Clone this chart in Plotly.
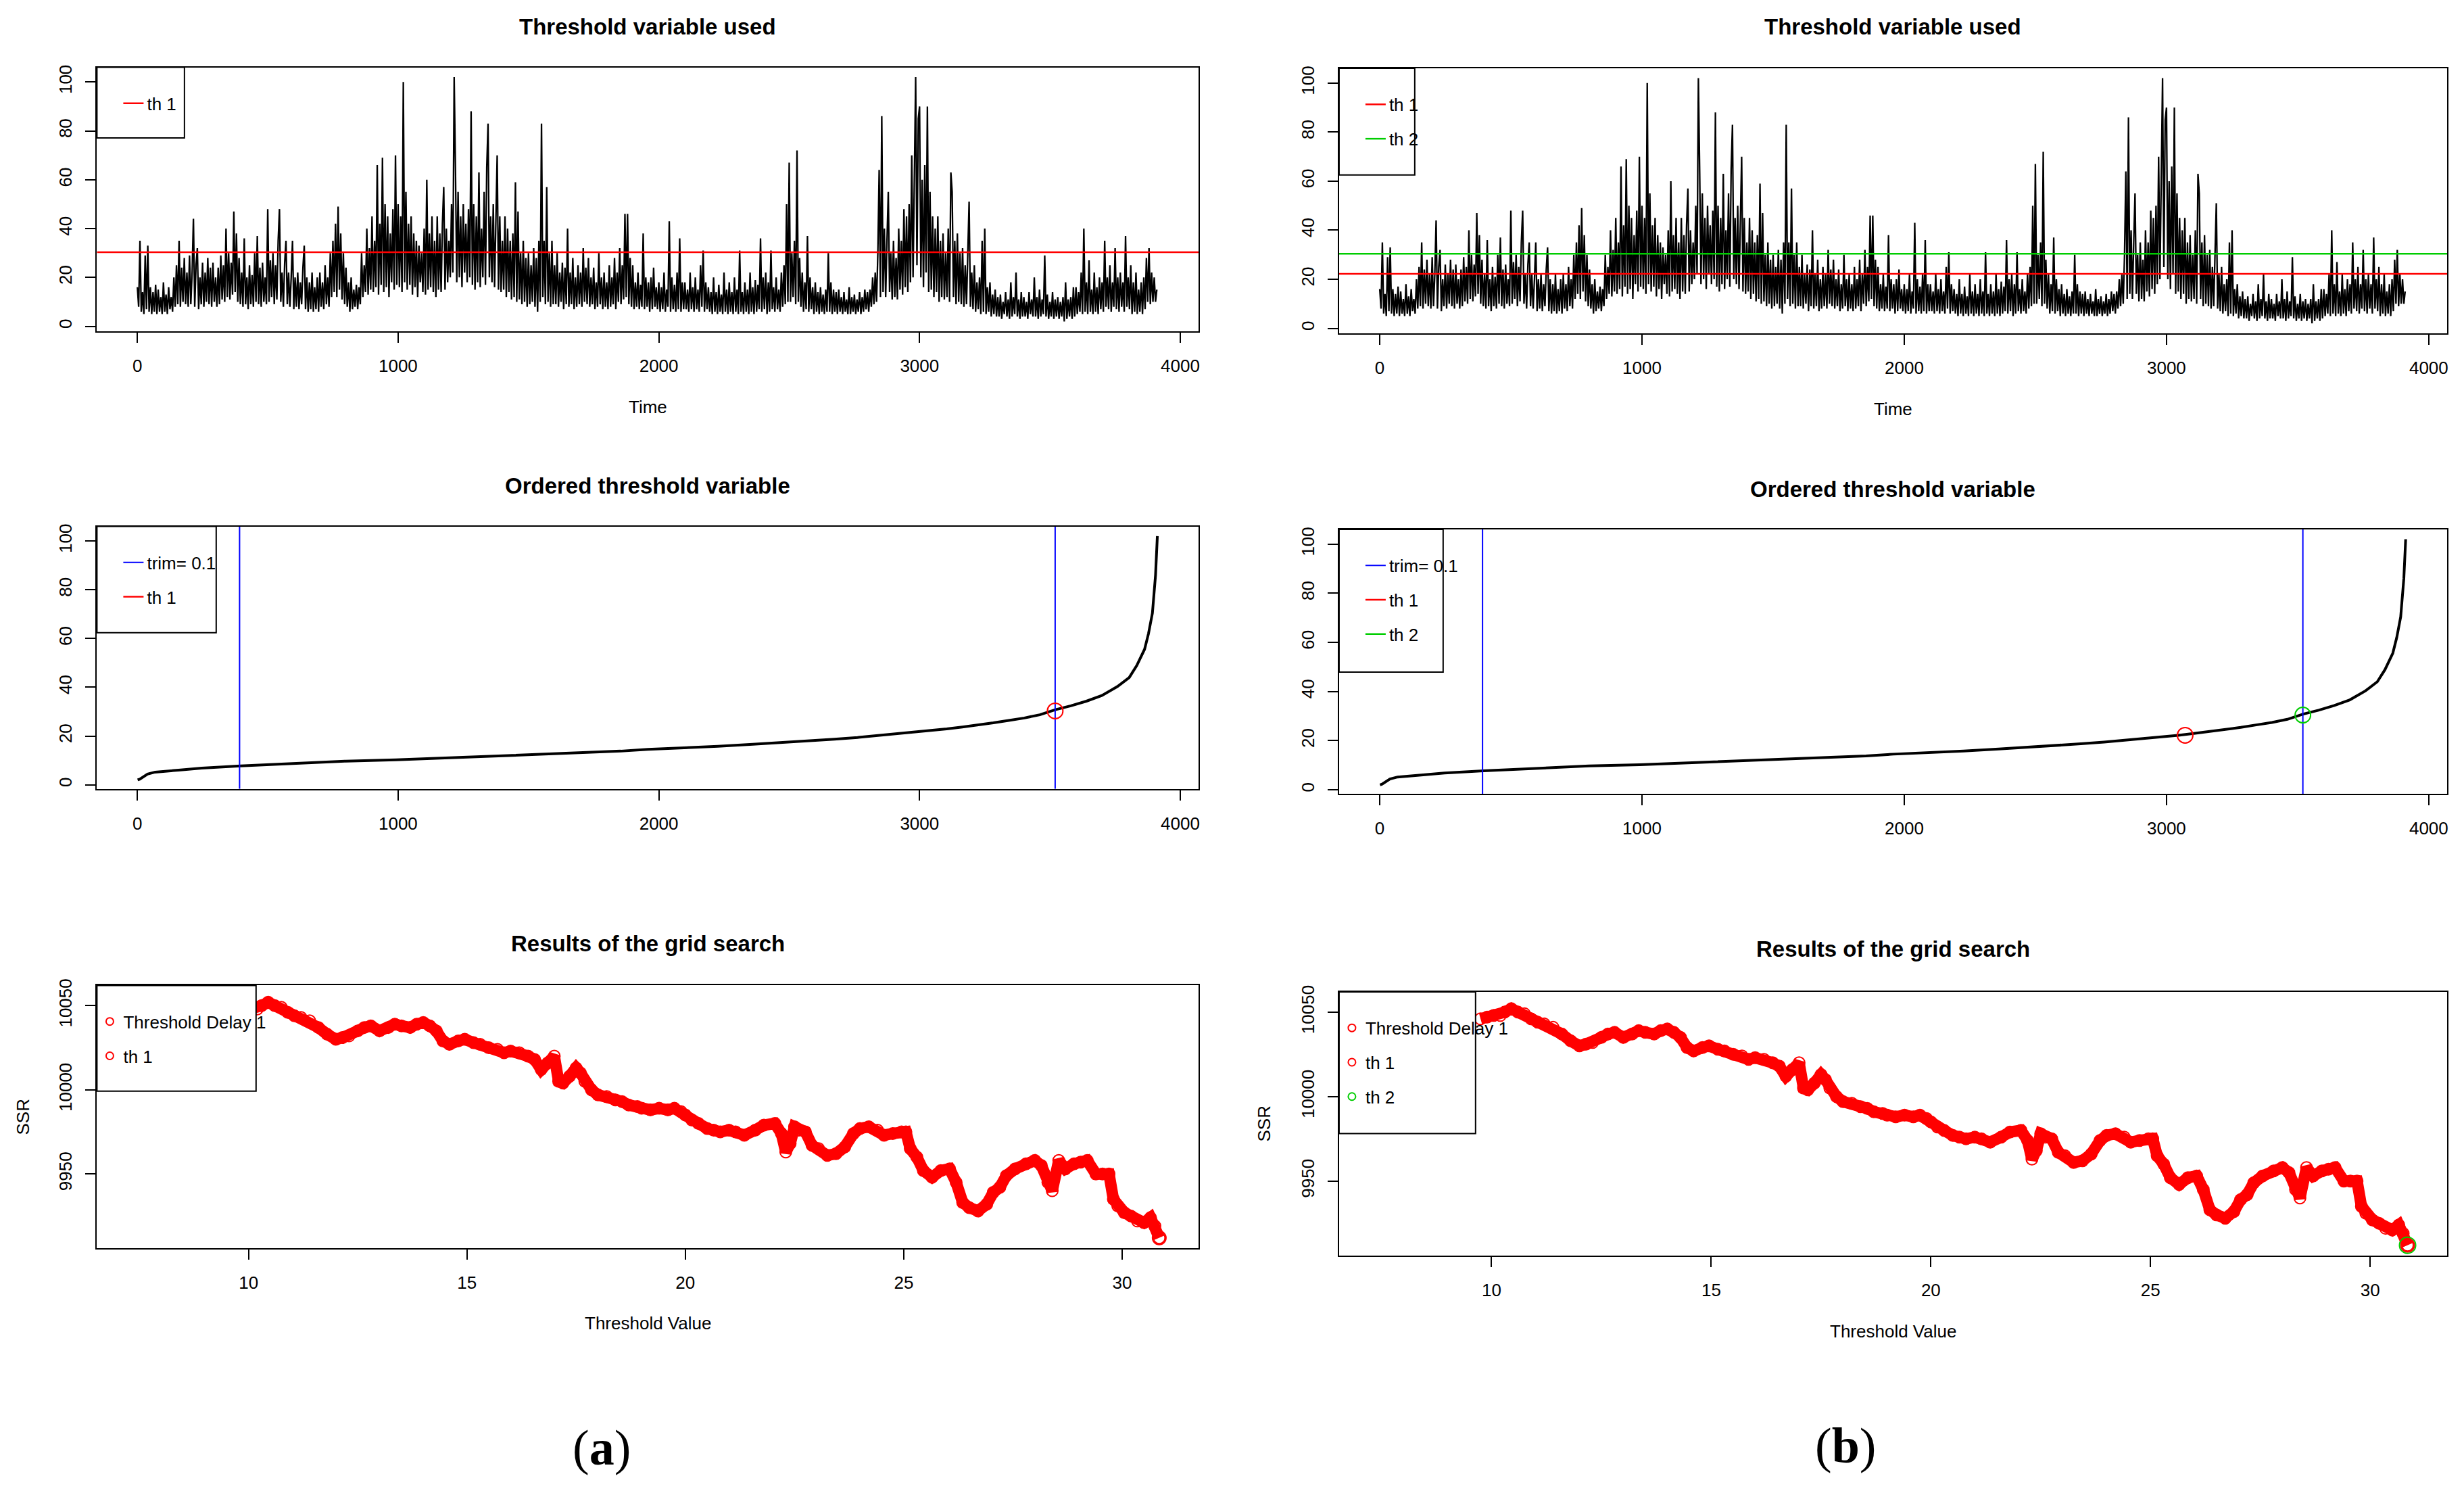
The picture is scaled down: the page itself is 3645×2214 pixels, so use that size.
import numpy as np
import plotly.graph_objects as go

W, H = 3645, 2214

# threshold variable, one value every 5 time steps
thr_series = [
    16, 8, 35, 6, 14, 5, 29, 7, 33, 6, 16, 5, 14, 6, 17, 5, 15, 6, 12, 5,
    18, 6, 13, 5, 16, 7, 12, 6, 20, 8, 25, 9, 35, 8, 24, 10, 28, 9, 22, 8,
    29, 9, 22, 44, 8, 25, 32, 7, 20, 9, 26, 8, 22, 10, 28, 9, 24, 8, 26, 10,
    20, 8, 24, 9, 29, 11, 25, 10, 40, 12, 30, 11, 26, 13, 47, 14, 38, 10, 28, 9,
    22, 8, 36, 9, 20, 7, 25, 9, 21, 8, 30, 10, 37, 9, 24, 8, 26, 10, 20, 9,
    48, 10, 27, 12, 30, 9, 25, 11, 35, 48, 10, 22, 8, 26, 35, 9, 22, 8, 20, 35,
    7, 20, 8, 22, 7, 18, 9, 24, 33, 7, 20, 6, 18, 7, 22, 6, 16, 7, 20, 6,
    22, 8, 18, 7, 25, 9, 20, 8, 30, 12, 35, 14, 42, 12, 49, 15, 38, 11, 30, 9,
    24, 8, 18, 6, 20, 7, 15, 8, 17, 7, 16, 9, 30, 12, 25, 14, 40, 13, 32, 15,
    45, 14, 35, 16, 66, 13, 42, 17, 69, 14, 50, 16, 45, 12, 38, 18, 48, 15, 70, 17,
    50, 16, 45, 14, 100, 18, 55, 15, 42, 17, 45, 13, 38, 16, 35, 12, 33, 18, 30, 14,
    40, 13, 60, 15, 38, 16, 45, 14, 35, 12, 45, 15, 38, 14, 42, 57, 15, 40, 18, 35,
    20, 50, 22, 102, 64, 18, 55, 20, 45, 16, 50, 22, 42, 18, 48, 20, 88, 17, 50, 15,
    45, 18, 63, 16, 40, 20, 55, 17, 65, 83, 20, 45, 18, 50, 16, 40, 70, 15, 45, 14,
    35, 15, 45, 12, 40, 14, 35, 11, 38, 12, 59, 10, 47, 11, 30, 9, 35, 10, 28, 8,
    30, 9, 25, 10, 32, 8, 28, 6, 35, 10, 83, 12, 35, 9, 57, 10, 30, 8, 35, 9,
    25, 9, 30, 8, 22, 10, 26, 7, 24, 9, 40, 8, 22, 9, 28, 7, 20, 8, 25, 9,
    22, 8, 32, 10, 24, 9, 28, 8, 20, 9, 24, 7, 18, 8, 30, 9, 20, 7, 22, 8,
    18, 7, 25, 8, 20, 9, 28, 7, 22, 10, 32, 9, 25, 11, 46, 12, 46, 9, 28, 8,
    25, 7, 18, 8, 22, 7, 17, 8, 38, 7, 20, 8, 18, 6, 20, 7, 24, 8, 16, 7,
    18, 6, 16, 7, 22, 6, 15, 8, 43, 6, 20, 7, 17, 6, 22, 7, 36, 6, 18, 7,
    18, 7, 15, 6, 22, 7, 16, 6, 20, 7, 15, 6, 25, 8, 31, 6, 18, 7, 16, 6,
    14, 5, 20, 6, 14, 5, 17, 6, 13, 5, 22, 6, 15, 5, 18, 6, 14, 5, 20, 6,
    15, 5, 31, 6, 14, 5, 18, 6, 15, 5, 22, 6, 16, 5, 19, 6, 17, 7, 36, 6,
    20, 7, 22, 5, 18, 6, 31, 7, 16, 6, 20, 7, 15, 6, 22, 8, 25, 9, 50, 10,
    67, 10, 30, 12, 35, 9, 72, 10, 28, 8, 22, 6, 18, 7, 37, 6, 20, 7, 16, 5,
    18, 6, 14, 5, 16, 6, 13, 5, 15, 6, 30, 6, 18, 5, 15, 6, 14, 5, 15, 6,
    12, 5, 14, 6, 11, 5, 16, 5, 12, 6, 13, 5, 11, 6, 14, 5, 12, 6, 15, 7,
    14, 6, 15, 8, 20, 9, 22, 10, 30, 64, 12, 86, 14, 40, 12, 35, 55, 14, 30, 11,
    35, 12, 28, 11, 40, 15, 35, 13, 48, 16, 45, 14, 50, 18, 70, 20, 60, 102, 25, 85,
    90, 20, 60, 16, 66, 22, 90, 14, 55, 15, 45, 12, 40, 14, 45, 10, 35, 12, 38, 11,
    30, 12, 40, 10, 63, 55, 12, 35, 9, 38, 10, 30, 9, 32, 8, 25, 9, 28, 51, 8,
    22, 7, 25, 6, 18, 7, 20, 5, 35, 6, 40, 5, 16, 6, 18, 4, 13, 5, 15, 4,
    12, 4, 13, 3, 10, 5, 14, 4, 11, 3, 18, 4, 12, 5, 22, 4, 11, 3, 14, 4,
    12, 4, 10, 3, 14, 5, 11, 4, 20, 4, 12, 3, 15, 4, 11, 5, 29, 4, 13, 3,
    10, 4, 14, 3, 11, 4, 12, 3, 10, 4, 12, 2, 18, 3, 11, 4, 12, 3, 16, 4,
    16, 5, 14, 6, 22, 5, 40, 6, 18, 5, 27, 6, 15, 5, 22, 6, 16, 5, 20, 7,
    18, 6, 35, 8, 20, 7, 25, 6, 18, 8, 32, 7, 20, 6, 22, 8, 18, 6, 37, 8,
    20, 7, 25, 5, 18, 6, 22, 5, 15, 6, 18, 5, 20, 7, 28, 10, 32, 9, 22, 10,
    20, 10, 15,
]
time_step = 5

# thresholds found
th_a = [30.3]
th_b = [22.2, 30.4]
th_rank_a = [3520]
th_rank_b = [3071, 3520]
trim_rank = [392, 3520]

# ordered threshold variable (rank, value)
ord_rank = [1, 9, 39, 68, 158, 247, 396, 500, 634, 798, 991, 1185, 1363, 1527, 1690,
            1854, 1958, 2107, 2226, 2360, 2479, 2583, 2673, 2762, 2836, 2911, 2985,
            3045, 3104, 3164, 3223, 3283, 3342, 3402, 3461, 3521, 3580, 3640, 3699,
            3759, 3804, 3833, 3863, 3878, 3893, 3905, 3912]
ord_val = [2.0, 2.3, 4.4, 5.2, 6.0, 6.8, 7.7, 8.2, 9.1, 9.7, 10.2, 11.0, 11.7, 12.4, 13.1,
           13.8, 14.5, 15.1, 15.8, 16.6, 17.3, 18.0, 18.7, 19.4, 20.1, 20.8, 21.5,
           22.2, 22.9, 23.7, 24.5, 25.4, 26.4, 27.4, 28.7, 30.8, 32.4, 34.3, 36.6,
           40.3, 44.0, 48.9, 55.6, 62.0, 70.4, 86.0, 102.0]

# grid search results
grid_x = [9.75, 9.9, 10.05, 10.2, 10.3, 10.45, 10.6, 10.75, 10.9, 11.05,
          11.2, 11.4, 11.6, 11.8, 12.0, 12.15, 12.3, 12.5, 12.65, 12.8,
          13.0, 13.2, 13.35, 13.5, 13.7, 13.85, 14.0, 14.15, 14.3, 14.45,
          14.6, 14.8, 14.95, 15.15, 15.3, 15.5, 15.7, 15.85, 16.0, 16.2,
          16.4, 16.55, 16.7, 16.85, 17.0, 17.1, 17.2, 17.35, 17.5, 17.6,
          17.7, 17.85, 18.0, 18.2, 18.4, 18.55, 18.7, 18.9, 19.0, 19.2,
          19.4, 19.6, 19.75, 19.9, 20.0, 20.15, 20.3, 20.5, 20.65, 20.8,
          21.0, 21.15, 21.35, 21.6, 21.8, 22.05, 22.2, 22.3, 22.4, 22.5,
          22.6, 22.75, 22.9, 23.05, 23.25, 23.45, 23.65, 23.85, 24.0, 24.2,
          24.4, 24.55, 24.75, 24.95, 25.05, 25.15, 25.3, 25.45, 25.65, 25.85,
          26.05, 26.2, 26.35, 26.5, 26.7, 26.9, 27.05, 27.2, 27.35, 27.55,
          27.8, 28.0, 28.15, 28.3, 28.4, 28.55, 28.7, 28.9, 29.05, 29.2,
          29.4, 29.55, 29.7, 29.8, 29.9, 30.05, 30.2, 30.35, 30.5, 30.65,
          30.75, 30.85]
grid_ssr = [10046, 10047, 10048, 10048, 10050, 10052, 10050, 10049, 10046, 10044,
            10043, 10041, 10037, 10033, 10030, 10031, 10032, 10035, 10037, 10038,
            10035, 10037, 10039, 10038, 10037, 10039, 10040, 10038, 10035, 10029,
            10027, 10029, 10030, 10028, 10027, 10025, 10024, 10022, 10023, 10022,
            10020, 10018, 10012, 10016, 10020, 10005, 10004, 10008, 10013, 10010,
            10005, 10000, 9997, 9996, 9994, 9993, 9991, 9990, 9989, 9988,
            9989, 9988, 9989, 9987, 9985, 9982, 9980, 9977, 9976, 9975,
            9976, 9975, 9973, 9976, 9979, 9980, 9974, 9963, 9968, 9978,
            9976, 9975, 9967, 9965, 9961, 9962, 9966, 9974, 9977, 9978,
            9976, 9973, 9974, 9975, 9975, 9965, 9960, 9952, 9948, 9952,
            9953, 9945, 9933, 9930, 9928, 9932, 9939, 9942, 9949, 9953,
            9956, 9958, 9955, 9945, 9940, 9958, 9953, 9956, 9957, 9958,
            9950, 9950, 9950, 9935, 9931, 9927, 9925, 9922, 9921, 9924,
            9919, 9912]
best_x = [30.85]
best_ssr = [9912]

time = np.arange(len(thr_series)) * time_step

RED, GREEN, BLUE = "#FF0000", "#00CD00", "#0000FF"
FONT = "Liberation Sans, Arial, sans-serif"
SERIF = "Liberation Serif, Times New Roman, serif"

# plot boxes in pixels: left, right, top, bottom
boxes = {
    1: (143.5, 1774, 98, 490),
    2: (1982, 3622, 99.5, 493),
    3: (143.5, 1774, 780, 1170),
    4: (1982, 3622, 784.5, 1177.5),
    5: (143.5, 1774, 1462, 1852),
    6: (1982, 3622, 1471.5, 1863),
}
YOFF = -8  # small vertical correction for the page


def px(x):
    return x / W


def py(y):
    return 1 - (y + YOFF) / H


ts_range = [-155, 4070]
ts_yrange = [-2, 106]
ord_yrange = [-1.7, 106]
grid_xrange = [6.53, 31.75]
grid_yrange = [9906, 10062]

fig = go.Figure()


def ax(n):
    return ("x" if n == 1 else f"x{n}"), ("y" if n == 1 else f"y{n}")


def leg(n):
    return "legend" if n == 1 else f"legend{n}"


# ---- top row: threshold variable used
for n, ths, cols in [(1, th_a, [RED]), (2, th_b, [RED, GREEN])]:
    xa, ya = ax(n)
    fig.add_trace(go.Scatter(x=time, y=thr_series, mode="lines", xaxis=xa, yaxis=ya,
                             line=dict(color="black", width=2.3), showlegend=False))
    for i, (t, c) in enumerate(zip(ths, cols)):
        fig.add_trace(go.Scatter(x=ts_range, y=[t, t], mode="lines", xaxis=xa, yaxis=ya,
                                 line=dict(color=c, width=2.5), name=f"th {i+1}",
                                 legend=leg(n), legendgroup=f"g{n}{i}"))

# ---- middle row: ordered threshold variable
for n, ths, ranks, cols in [(3, th_a, th_rank_a, [RED]), (4, th_b, th_rank_b, [RED, GREEN])]:
    xa, ya = ax(n)
    fig.add_trace(go.Scatter(x=ord_rank, y=ord_val, mode="lines", xaxis=xa, yaxis=ya,
                             line=dict(color="black", width=4), showlegend=False))
    tx, ty = [], []
    for r in trim_rank:
        tx += [r, r, None]
        ty += [ord_yrange[0], ord_yrange[1], None]
    fig.add_trace(go.Scatter(x=tx, y=ty, mode="lines", xaxis=xa, yaxis=ya,
                             line=dict(color=BLUE, width=2), name="trim= 0.1",
                             legend=leg(n), legendgroup=f"g{n}t"))
    for i, (t, r, c) in enumerate(zip(ths, ranks, cols)):
        fig.add_trace(go.Scatter(x=[r], y=[t], mode="markers", xaxis=xa, yaxis=ya,
                                 marker=dict(symbol="circle-open", size=23, color=c,
                                             line=dict(width=2, color=c)),
                                 showlegend=False))
        fig.add_trace(go.Scatter(x=[None], y=[None], mode="lines", xaxis=xa, yaxis=ya,
                                 line=dict(color=c, width=2.5), name=f"th {i+1}",
                                 legend=leg(n), legendgroup=f"g{n}{i}"))

# ---- bottom row: grid search
for n, cols in [(5, [RED]), (6, [RED, GREEN])]:
    xa, ya = ax(n)
    fig.add_trace(go.Scatter(x=grid_x, y=grid_ssr, mode="lines+markers", xaxis=xa, yaxis=ya,
                             line=dict(color=RED, width=17),
                             marker=dict(symbol="circle-open", size=17, color=RED,
                                         line=dict(width=2, color=RED)),
                             showlegend=False))
    fig.add_trace(go.Scatter(x=[None], y=[None], mode="markers", xaxis=xa, yaxis=ya,
                             marker=dict(symbol="circle-open", size=11, color=RED,
                                         line=dict(width=2, color=RED)),
                             name="Threshold Delay 1", legend=leg(n), legendgroup=f"g{n}d"))
    for i, c in enumerate(cols):
        fig.add_trace(go.Scatter(x=best_x, y=best_ssr, mode="markers", xaxis=xa, yaxis=ya,
                                 marker=dict(symbol="circle-open", size=20 if i == 0 else 24,
                                             color=c, line=dict(width=2, color=c)),
                                 showlegend=False))
        fig.add_trace(go.Scatter(x=[None], y=[None], mode="markers", xaxis=xa, yaxis=ya,
                                 marker=dict(symbol="circle-open", size=11, color=c,
                                             line=dict(width=2, color=c)),
                                 name=f"th {i+1}", legend=leg(n), legendgroup=f"g{n}{i}"))

# ---- axes
layout = dict(width=W, height=H, margin=dict(l=0, r=0, t=0, b=0),
              paper_bgcolor="white", plot_bgcolor="white",
              font=dict(family=FONT, size=26, color="black"), showlegend=True)

axis_common = dict(showline=True, mirror=True, linecolor="black", linewidth=2,
                   ticks="outside", ticklen=15, tickwidth=2, tickcolor="black",
                   showgrid=False, zeroline=False, tickfont=dict(size=26),
                   tickformat="d")

for n, (l, r, t, b) in boxes.items():
    xk = "xaxis" if n == 1 else f"xaxis{n}"
    yk = "yaxis" if n == 1 else f"yaxis{n}"
    xa, ya = ax(n)
    if n <= 4:
        xr, xt = ts_range, [0, 1000, 2000, 3000, 4000]
        yr = ts_yrange if n <= 2 else ord_yrange
        yt = [0, 20, 40, 60, 80, 100]
    else:
        xr, xt = grid_xrange, [10, 15, 20, 25, 30]
        yr, yt = grid_yrange, [9950, 10000, 10050]
    layout[xk] = dict(domain=[px(l), px(r)], range=xr, tickvals=xt, anchor=ya,
                      ticklabelstandoff=12, **axis_common)
    layout[yk] = dict(domain=[py(b), py(t)], range=yr, tickvals=yt, anchor=xa,
                      tickangle=-90, ticklabelstandoff=10, **axis_common)

# ---- legends (box drawn as shape, entries via plotly legends)
legend_boxes = {1: (273, 203), 2: (2094, 258), 3: (320, 938), 4: (2136, 996.5),
                5: (379, 1619), 6: (2184, 1682)}
shapes = []
for n, (rr, bb) in legend_boxes.items():
    l, r, t, b = boxes[n]
    shapes.append(dict(type="rect", xref="paper", yref="paper", layer="above",
                       x0=px(l), x1=px(rr), y0=py(bb), y1=py(t),
                       fillcolor="white", line=dict(color="black", width=2)))
    dx = 34 if n <= 4 else -1
    layout[leg(n)] = dict(x=px(l + dx), y=py(t + 30), xanchor="left", yanchor="top",
                          bgcolor="rgba(0,0,0,0)", borderwidth=0, traceorder="grouped",
                          tracegroupgap=14, font=dict(size=26, family=FONT))
layout["shapes"] = shapes

# ---- text
ann = []


def txt(s, x, y, size=26, angle=0, family=FONT):
    ann.append(dict(text=s, x=px(x), y=py(y), xref="paper", yref="paper",
                    showarrow=False, xanchor="center", yanchor="middle",
                    textangle=angle, font=dict(size=size, family=family, color="black")))


for cx, ys in [(959, (38, 720, 1400)), (2802, (38, 725, 1408))]:
    txt("<b>Threshold variable used</b>", cx, ys[0], 33)
    txt("<b>Ordered threshold variable</b>", cx, ys[1], 33)
    txt("<b>Results of the grid search</b>", cx, ys[2], 33)
txt("Time", 959, 603)
txt("Time", 2802, 606)
txt("Threshold Value", 959, 1964)
txt("Threshold Value", 2802, 1976)
txt("SSR", 34, 1657, angle=-90)
txt("SSR", 1871, 1667, angle=-90)
txt("(<b>a</b>)", 890, 2149, 74, family=SERIF)
txt("(<b>b</b>)", 2731, 2146, 74, family=SERIF)
layout["annotations"] = ann

fig.update_layout(**layout)
fig.write_html("out.html", config={"displayModeBar": False},
               post_script="document.body.style.margin='0px';")
